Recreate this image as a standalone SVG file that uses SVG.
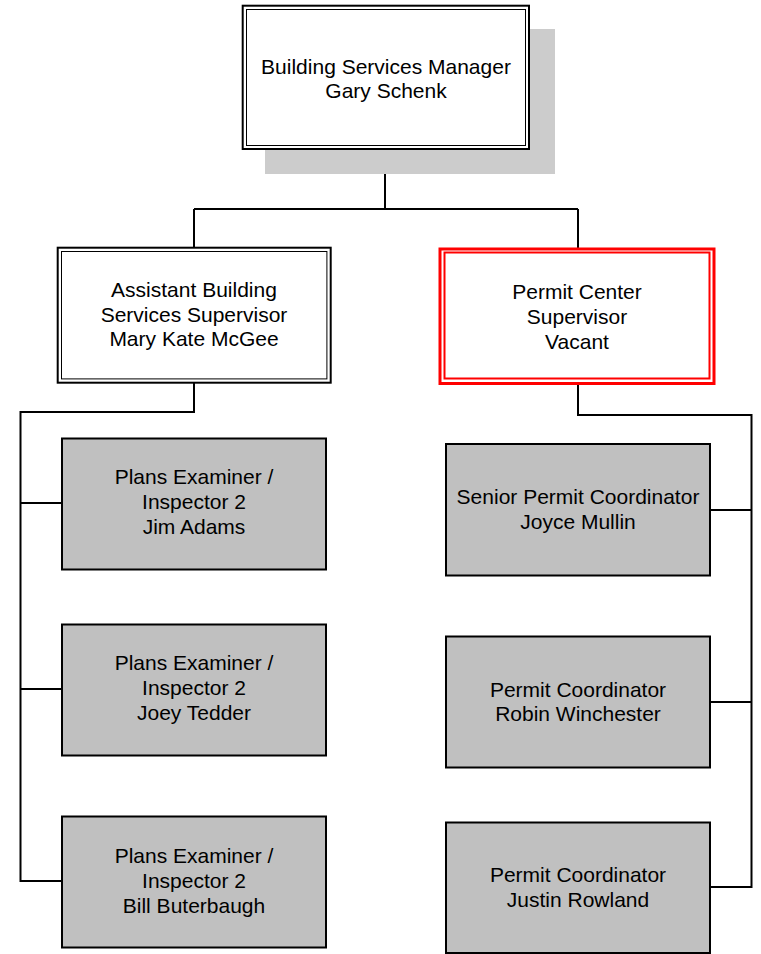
<svg xmlns="http://www.w3.org/2000/svg" width="761" height="954" viewBox="0 0 761 954">
<style>
text{font-family:"Liberation Sans",Arial,sans-serif;font-size:21px;fill:#000;text-anchor:middle}
.conn{fill:none;stroke:#000;stroke-width:2}
.gray{fill:#c0c0c0;stroke:#000;stroke-width:2}
.dbl-o{fill:#fff;stroke:#000;stroke-width:2}
.dbl-i{fill:none;stroke:#000;stroke-width:1}
.red-o{fill:#fff;stroke:#ff0000;stroke-width:3}
.red-i{fill:none;stroke:#ff0000;stroke-width:2}
</style>
<rect width="761" height="954" fill="#fff"/>
<g id="connectors">
<path class="conn" d="M385 149V209M194 209H578M194 209V248M578 209V248"/>
<path class="conn" d="M194 383V412H20.5V881H62M20.5 503H62M20.5 689H62"/>
<path class="conn" d="M578 384V415H751.5V887H710M751.5 510H710M751.5 702H710"/>
</g>
<g id="manager">
<rect x="265" y="29" width="290" height="145" fill="#cccccc"/>
<rect class="dbl-o" x="242.7" y="5.7" width="286.3" height="143.3"/>
<rect class="dbl-i" x="246.5" y="9.5" width="279" height="136"/>
<text x="386" y="74">Building Services Manager</text>
<text x="386" y="98">Gary Schenk</text>
</g>
<g id="assistant">
<rect class="dbl-o" x="57.7" y="247.7" width="273" height="135"/>
<rect class="dbl-i" x="61.5" y="251.5" width="265.4" height="127.4"/>
<text x="194" y="297">Assistant Building</text>
<text x="194" y="321.5">Services Supervisor</text>
<text x="194" y="346">Mary Kate McGee</text>
</g>
<g id="permit-supervisor">
<rect class="red-o" x="440" y="249" width="274" height="134.5"/>
<rect class="red-i" x="444.5" y="252.5" width="265" height="126"/>
<text x="577" y="299">Permit Center</text>
<text x="577" y="324">Supervisor</text>
<text x="577" y="348.5">Vacant</text>
</g>
<g id="jim-adams">
<rect class="gray" x="62" y="438.5" width="264" height="131"/>
<text x="194" y="483.5">Plans Examiner /</text>
<text x="194" y="508.5">Inspector 2</text>
<text x="194" y="533.5">Jim Adams</text>
</g>
<g id="joey-tedder">
<rect class="gray" x="62" y="624.5" width="264" height="131"/>
<text x="194" y="669.5">Plans Examiner /</text>
<text x="194" y="694.5">Inspector 2</text>
<text x="194" y="719.5">Joey Tedder</text>
</g>
<g id="bill-buterbaugh">
<rect class="gray" x="62" y="816.5" width="264" height="131"/>
<text x="194" y="863">Plans Examiner /</text>
<text x="194" y="888">Inspector 2</text>
<text x="194" y="913">Bill Buterbaugh</text>
</g>
<g id="joyce-mullin">
<rect class="gray" x="446" y="444" width="264" height="131.5"/>
<text x="578" y="504">Senior Permit Coordinator</text>
<text x="578" y="528.5">Joyce Mullin</text>
</g>
<g id="robin-winchester">
<rect class="gray" x="446" y="636.5" width="264" height="131"/>
<text x="578" y="696.5">Permit Coordinator</text>
<text x="578" y="721">Robin Winchester</text>
</g>
<g id="justin-rowland">
<rect class="gray" x="446" y="822.5" width="264" height="130.5"/>
<text x="578" y="882">Permit Coordinator</text>
<text x="578" y="906.5">Justin Rowland</text>
</g>
</svg>
